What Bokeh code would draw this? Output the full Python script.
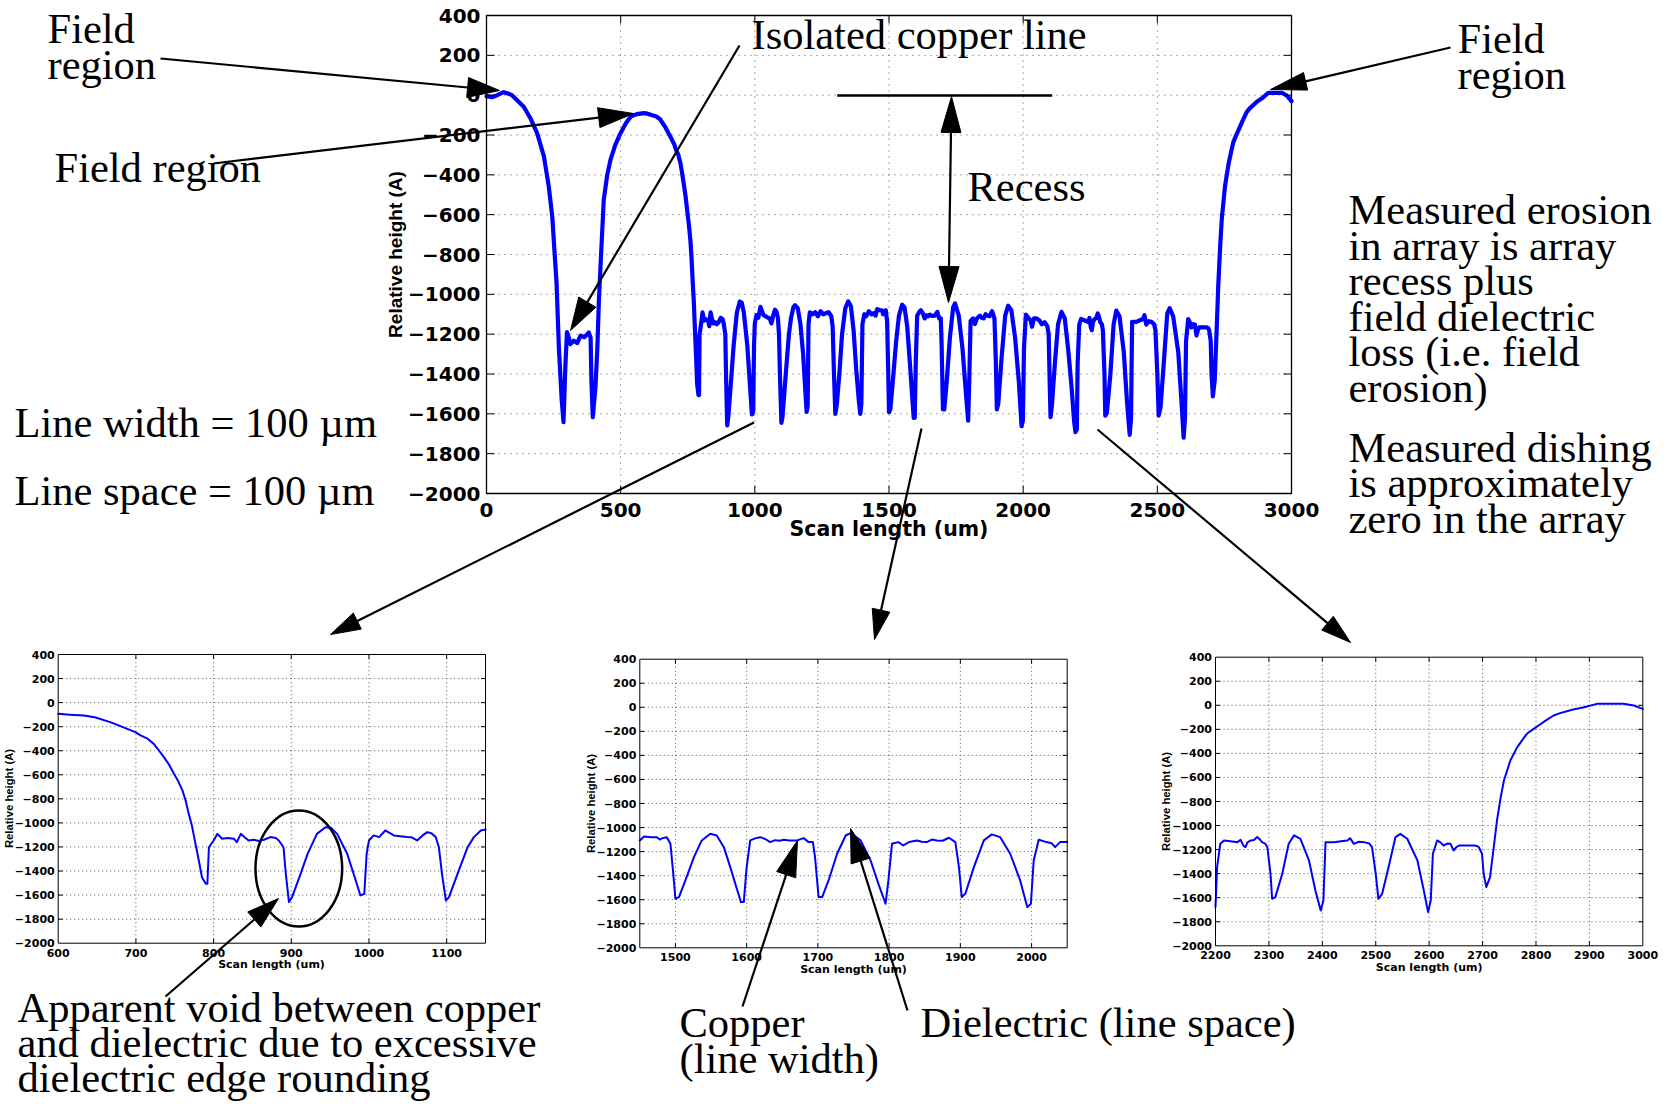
import math

from bokeh.core.properties import value
from bokeh.embed import file_html
from bokeh.models import Range1d
from bokeh.plotting import figure
from bokeh.resources import INLINE

PAGE_W, PAGE_H = 1667, 1104

# ---------------------------------------------------------------------------
# Measured surface profile across the isolated line and the 100/100 um array
# ---------------------------------------------------------------------------
scan_um = [
    0, 20, 40, 64, 80, 95, 114, 139, 164, 189,
    214, 232, 245, 253, 261, 270, 280, 287, 294, 300,
    306, 313, 325, 338, 350, 365, 381, 388, 391, 396,
    406, 413, 419, 427, 437, 450, 462, 480, 499, 520,
    537, 560, 586, 600, 615, 633, 647, 667, 689, 700,
    706, 715, 723, 729, 736, 742, 749, 754, 760, 764,
    768, 772, 775, 778, 781, 785, 790,
    792, 794, 800, 805, 811, 818, 826, 830, 835, 840,
    845, 852, 858, 865, 873, 880, 884, 890, 893, 897,
    901, 912, 921, 933, 944, 951, 959, 972, 983, 989,
    994, 997, 1000, 1006, 1013, 1021, 1032, 1040, 1049, 1055,
    1062, 1069, 1075, 1080, 1086, 1090, 1094, 1099, 1103, 1114,
    1127, 1135, 1144, 1150, 1160, 1170, 1180, 1188, 1193, 1197,
    1200, 1205, 1215, 1225, 1235, 1245, 1255, 1265, 1275, 1285,
    1290, 1295, 1300, 1305, 1315, 1325, 1337, 1348, 1358, 1368,
    1378, 1388, 1393, 1397, 1401, 1408, 1415, 1425, 1435, 1443,
    1450, 1456, 1466, 1474, 1478, 1481, 1488, 1493, 1497, 1500,
    1505, 1514, 1526, 1537, 1549, 1558, 1568, 1577, 1587, 1592,
    1596, 1600, 1605, 1612, 1619, 1626, 1633, 1640, 1646, 1652,
    1660, 1671, 1680, 1687, 1693, 1696, 1701, 1706, 1715, 1727,
    1739, 1746, 1760, 1774, 1785, 1795, 1799, 1804, 1813, 1820,
    1828, 1839, 1846, 1853, 1860, 1867, 1875, 1884, 1893, 1898,
    1902, 1907, 1919, 1933, 1944, 1956, 1970, 1984, 1994, 1999,
    2003, 2010, 2021, 2028, 2033, 2040, 2050, 2060, 2070, 2080,
    2090, 2095, 2099, 2102, 2107, 2118, 2130, 2143, 2155, 2168,
    2180, 2190, 2195, 2200, 2203, 2209, 2216, 2228, 2241, 2247,
    2252, 2256, 2260, 2266, 2272, 2278, 2283, 2287, 2293, 2297,
    2303, 2306, 2312, 2325, 2337, 2347, 2359, 2375, 2387, 2397,
    2402, 2406, 2422, 2435, 2447, 2452, 2459, 2468, 2478, 2488,
    2493, 2500, 2505, 2512, 2524, 2537, 2546, 2559, 2578, 2590,
    2598, 2603, 2607, 2615, 2621, 2627, 2634, 2640, 2646, 2651,
    2656, 2670, 2684, 2690, 2693, 2699, 2702, 2707, 2714, 2721,
    2727, 2734, 2740, 2752, 2765, 2775, 2783, 2795, 2805, 2818,
    2833, 2845, 2858, 2872, 2890, 2914, 2940, 2964, 2983, 3000,
]
height_A = [
    -5, -10, 0, 15, 8, 0, -25, -58, -117, -192,
    -308, -458, -608, -775, -942, -1275, -1525, -1642, -1358, -1190,
    -1215, -1250, -1233, -1245, -1208, -1215, -1192, -1217, -1433, -1617,
    -1467, -1275, -1025, -800, -525, -400, -325, -250, -192, -140,
    -108, -95, -90, -93, -100, -107, -121, -162, -218, -248,
    -273, -300, -343, -392, -453, -509, -592, -647, -731, -814,
    -925, -1020, -1118, -1215, -1312, -1451, -1506,
    -1506, -1202, -1146, -1091, -1132, -1125, -1132, -1160, -1091, -1120,
    -1146, -1140, -1150, -1140, -1118, -1125, -1146, -1202, -1423, -1658,
    -1617, -1423, -1257, -1091, -1036, -1041, -1091, -1257, -1479, -1603,
    -1590, -1257, -1146, -1104, -1118, -1063, -1104, -1110, -1118, -1120,
    -1146, -1104, -1077, -1085, -1118, -1202, -1423, -1645, -1617, -1423,
    -1202, -1118, -1063, -1055, -1070, -1150, -1300, -1480, -1590, -1560,
    -1150, -1090, -1100, -1090, -1110, -1085, -1100, -1095, -1090, -1110,
    -1160, -1400, -1600, -1560, -1400, -1200, -1070, -1035, -1060, -1180,
    -1380, -1540, -1600, -1550, -1150, -1100, -1110, -1085, -1100, -1095,
    -1107, -1074, -1080, -1080, -1100, -1090, -1080, -1135, -1385, -1592,
    -1578, -1440, -1246, -1107, -1052, -1066, -1163, -1329, -1523, -1620,
    -1620, -1329, -1107, -1090, -1080, -1095, -1121, -1105, -1110, -1102,
    -1108, -1107, -1088, -1121, -1121, -1246, -1578, -1578, -1440, -1218,
    -1066, -1046, -1107, -1274, -1468, -1634, -1440, -1135, -1121, -1149,
    -1120, -1107, -1118, -1121, -1100, -1107, -1110, -1085, -1121, -1329,
    -1578, -1551, -1329, -1107, -1057, -1080, -1218, -1440, -1662, -1634,
    -1274, -1102, -1121, -1130, -1163, -1121, -1121, -1130, -1150, -1140,
    -1160, -1200, -1450, -1617, -1560, -1350, -1150, -1088, -1120, -1280,
    -1460, -1640, -1692, -1678, -1346, -1152, -1124, -1130, -1138, -1119,
    -1165, -1180, -1140, -1124, -1120, -1096, -1115, -1138, -1150, -1180,
    -1401, -1609, -1595, -1401, -1152, -1082, -1110, -1290, -1540, -1706,
    -1623, -1138, -1138, -1130, -1124, -1105, -1152, -1135, -1138, -1150,
    -1180, -1401, -1609, -1568, -1346, -1096, -1069, -1110, -1290, -1540,
    -1720, -1623, -1235, -1124, -1140, -1166, -1150, -1152, -1207, -1180,
    -1166, -1166, -1166, -1170, -1180, -1235, -1401, -1512, -1429, -1180,
    -958, -764, -625, -459, -348, -285, -237, -198, -168, -128,
    -85, -65, -49, -32, -16, 12, 12, 12, -2, -30,
]

# Axis ticks shared by every panel (height) and per panel (scan length)
height_ticks = [400, 200, 0, -200, -400, -600, -800, -1000,
                -1200, -1400, -1600, -1800, -2000]
height_labels = ["400", "200", "0", "\u2212200", "\u2212400", "\u2212600", "\u2212800",
                 "\u22121000", "\u22121200", "\u22121400", "\u22121600", "\u22121800",
                 "\u22122000"]
overview_ticks = [0, 500, 1000, 1500, 2000, 2500, 3000]
left_detail_ticks = [600, 700, 800, 900, 1000, 1100]
middle_detail_ticks = [1500, 1600, 1700, 1800, 1900, 2000]
right_detail_ticks = [2200, 2300, 2400, 2500, 2600, 2700, 2800, 2900, 3000]

Y_MIN, Y_MAX = -2000, 400
TRACE_BLUE = "#0000ff"
SANS = value("DejaVu Sans")
NARROW_SANS = value("Liberation Sans")
SERIF = value("Liberation Serif")

# Overview plus three zoomed windows; boxes are (left, top, right, bottom) in page pixels
PANELS = [
    dict(x_window=(0, 3000), x_ticks=overview_ticks, box=(486, 15, 1291, 493),
         trace_width=4.2, frame_width=1.3, tick_len=8, grid_dash="1 5",
         tick_font="20px", xtick_gap=16, ytick_gap=6,
         xlabel_font="20.5px", xlabel_at=(888.5, 528),
         ylabel_font="19px", ylabel_at=(394.5, 254)),
    dict(x_window=(600, 1150), x_ticks=left_detail_ticks, box=(57.7, 654, 485, 942.7),
         trace_width=2, frame_width=1, tick_len=4.5, grid_dash="1 3",
         tick_font="11px", xtick_gap=9.3, ytick_gap=3.5,
         xlabel_font="11px", xlabel_at=(271, 964),
         ylabel_font="11.3px", ylabel_at=(8.5, 798)),
    dict(x_window=(1450, 2050), x_ticks=middle_detail_ticks, box=(639.3, 658.7, 1066.7, 947.3),
         trace_width=2, frame_width=1, tick_len=4.5, grid_dash="1 3",
         tick_font="11px", xtick_gap=9.3, ytick_gap=3.5,
         xlabel_font="11px", xlabel_at=(853, 969),
         ylabel_font="11.3px", ylabel_at=(590, 803)),
    dict(x_window=(2200, 3000), x_ticks=right_detail_ticks, box=(1215, 656.7, 1642.3, 945.3),
         trace_width=2, frame_width=1, tick_len=4.5, grid_dash="1 3",
         tick_font="11px", xtick_gap=9.3, ytick_gap=3.5,
         xlabel_font="11px", xlabel_at=(1428.7, 966.5),
         ylabel_font="11.3px", ylabel_at=(1165, 801)),
]

p = figure(width=PAGE_W, height=PAGE_H,
           x_range=Range1d(0, PAGE_W), y_range=Range1d(0, PAGE_H),
           output_backend="svg", toolbar_location=None,
           x_axis_location=None, y_axis_location=None,
           min_border=0, outline_line_color=None,
           background_fill_color="white", border_fill_color="white")
p.grid.visible = False


def page_y(y_from_top):
    return PAGE_H - y_from_top


for panel in PANELS:
    x0, x1 = panel["x_window"]
    left, top, right, bottom = panel["box"]
    sub = p.subplot(
        x_source=Range1d(x0, x1), y_source=Range1d(Y_MIN, Y_MAX),
        x_target=Range1d(left, right), y_target=Range1d(page_y(bottom), page_y(top)),
    )
    ticks = panel["x_ticks"]
    inner_x = [t for t in ticks if x0 < t < x1]
    inner_y = [t for t in height_ticks if Y_MIN < t < Y_MAX]

    # dotted grid
    sub.segment(x0=inner_x, y0=[Y_MIN] * len(inner_x), x1=inner_x, y1=[Y_MAX] * len(inner_x),
                line_color="#555555", line_width=1, line_dash=panel["grid_dash"])
    sub.segment(x0=[x0] * len(inner_y), y0=inner_y, x1=[x1] * len(inner_y), y1=inner_y,
                line_color="#555555", line_width=1, line_dash=panel["grid_dash"])

    # profile trace restricted to the panel window
    xs = [x for x in scan_um if x0 <= x <= x1]
    hs = [h for x, h in zip(scan_um, height_A) if x0 <= x <= x1]
    sub.line(xs, hs, line_color=TRACE_BLUE, line_width=panel["trace_width"],
             line_join="round", line_cap="round")

    # box and inward ticks on all four sides
    sub.quad(left=[x0], right=[x1], bottom=[Y_MIN], top=[Y_MAX],
             fill_color=None, line_color="black", line_width=panel["frame_width"])
    tl = panel["tick_len"]
    sub.ray(x=inner_x, y=[Y_MIN] * len(inner_x), length=tl, length_units="screen",
            angle=math.pi / 2, line_color="black", line_width=1)
    sub.ray(x=inner_x, y=[Y_MAX] * len(inner_x), length=tl, length_units="screen",
            angle=-math.pi / 2, line_color="black", line_width=1)
    sub.ray(x=[x0] * len(inner_y), y=inner_y, length=tl, length_units="screen",
            angle=0, line_color="black", line_width=1)
    sub.ray(x=[x1] * len(inner_y), y=inner_y, length=tl, length_units="screen",
            angle=math.pi, line_color="black", line_width=1)

    # tick labels
    sub.text(x=ticks, y=[Y_MIN] * len(ticks), text=[str(t) for t in ticks],
             text_align="center", text_baseline="middle", y_offset=panel["xtick_gap"],
             text_font=SANS, text_font_style="bold", text_font_size=panel["tick_font"],
             text_color="black")
    sub.text(x=[x0] * len(height_ticks), y=height_ticks, text=height_labels,
             text_align="right", text_baseline="middle", x_offset=-panel["ytick_gap"],
             text_font=SANS, text_font_style="bold", text_font_size=panel["tick_font"],
             text_color="black")

    # axis titles
    lx, ly = panel["xlabel_at"]
    p.text(x=[lx], y=[page_y(ly)], text=["Scan length (um)"],
           text_align="center", text_baseline="middle",
           text_font=SANS, text_font_style="bold", text_font_size=panel["xlabel_font"],
           text_color="black")
    vx, vy = panel["ylabel_at"]
    p.text(x=[vx], y=[page_y(vy)], text=["Relative height (A)"], angle=math.pi / 2,
           text_align="center", text_baseline="middle",
           text_font=NARROW_SANS, text_font_style="bold", text_font_size=panel["ylabel_font"],
           text_color="black")

# ---------------------------------------------------------------------------
# Callout arrows, recess marker and the rounding ellipse (page pixels from top)
# ---------------------------------------------------------------------------
shaft_x0, shaft_y0, shaft_x1, shaft_y1 = [], [], [], []
head_xs, head_ys = [], []


def add_head(tip, tail, length, half):
    dx, dy = tip[0] - tail[0], tip[1] - tail[1]
    n = math.hypot(dx, dy)
    ux, uy = dx / n, dy / n
    bx, by = tip[0] - ux * length, tip[1] - uy * length
    px, py = -uy, ux
    head_xs.append([tip[0], bx + px * half, bx - px * half])
    head_ys.append([page_y(tip[1]), page_y(by + py * half), page_y(by - py * half)])
    return bx, by


def add_arrow(tail, tip, length=32, half=10, double=False):
    start = tail
    if double:
        start = add_head(tail, tip, length, half)
    end = add_head(tip, tail, length, half)
    shaft_x0.append(start[0])
    shaft_y0.append(page_y(start[1]))
    shaft_x1.append(end[0])
    shaft_y1.append(page_y(end[1]))


add_arrow((160, 58), (499, 90), 32, 10)            # field region, left
add_arrow((213, 163), (633, 113), 35, 10)          # field region, second
add_arrow((739, 45), (570, 330), 33, 10)           # isolated copper line
add_arrow((1450, 47), (1270, 89), 36, 9)           # field region, right
add_arrow((951, 96), (948, 302), 36, 10, True)     # recess
add_arrow((753.5, 422), (330, 634), 30, 9)         # to left detail
add_arrow((921, 428), (874, 639), 30, 9)           # to middle detail
add_arrow((1097, 429), (1350, 642), 30, 9)         # to right detail
add_arrow((165, 996), (278, 898), 32, 10)          # apparent void
add_arrow((742, 1006), (797, 840), 36, 10)         # copper
add_arrow((907, 1010), (850, 828), 34, 10)         # dielectric

p.segment(x0=shaft_x0, y0=shaft_y0, x1=shaft_x1, y1=shaft_y1,
          line_color="black", line_width=2.2)
p.patches(xs=head_xs, ys=head_ys, fill_color="black", line_color="black", line_width=1)

# recess reference level
p.segment(x0=[836.7], y0=[page_y(95)], x1=[1051.7], y1=[page_y(95)],
          line_color="black", line_width=2.5)

# ellipse round the void
p.ellipse(x=[298.3], y=[page_y(868)], width=86.7, height=116,
          fill_color=None, line_color="black", line_width=2.5)

# ---------------------------------------------------------------------------
# Annotation text (left x, baseline y from top)
# ---------------------------------------------------------------------------
notes = [
    ("Field", 47, 28), ("region", 47, 64),
    ("Field region", 54, 167),
    ("Isolated copper line", 751, 34),
    ("Recess", 967, 186),
    ("Field", 1457, 38), ("region", 1457, 74),
    ("Measured erosion", 1348, 209),
    ("in array is array", 1348, 244.5),
    ("recess plus", 1348, 280),
    ("field dielectric", 1348, 315.5),
    ("loss (i.e. field", 1348, 351),
    ("erosion)", 1348, 386.5),
    ("Measured dishing", 1348, 446.7),
    ("is approximately", 1348, 482.2),
    ("zero in the array", 1348, 517.7),
    ("Line width = 100 \u00b5m", 14, 422),
    ("Line space = 100 \u00b5m", 14, 490),
    ("Apparent void between copper", 17, 1007),
    ("and dielectric due to excessive", 17, 1042),
    ("dielectric edge rounding", 17, 1077),
    ("Copper", 679, 1022),
    ("(line width)", 679, 1058),
    ("Dielectric (line space)", 920, 1022),
]
p.text(x=[n[1] for n in notes], y=[page_y(n[2]) for n in notes], text=[n[0] for n in notes],
       text_align="left", text_baseline="alphabetic",
       text_font=SERIF, text_font_size="42.5px", text_color="black")

open("out.html", "w").write(file_html(p, INLINE, title="CMP profile"))
